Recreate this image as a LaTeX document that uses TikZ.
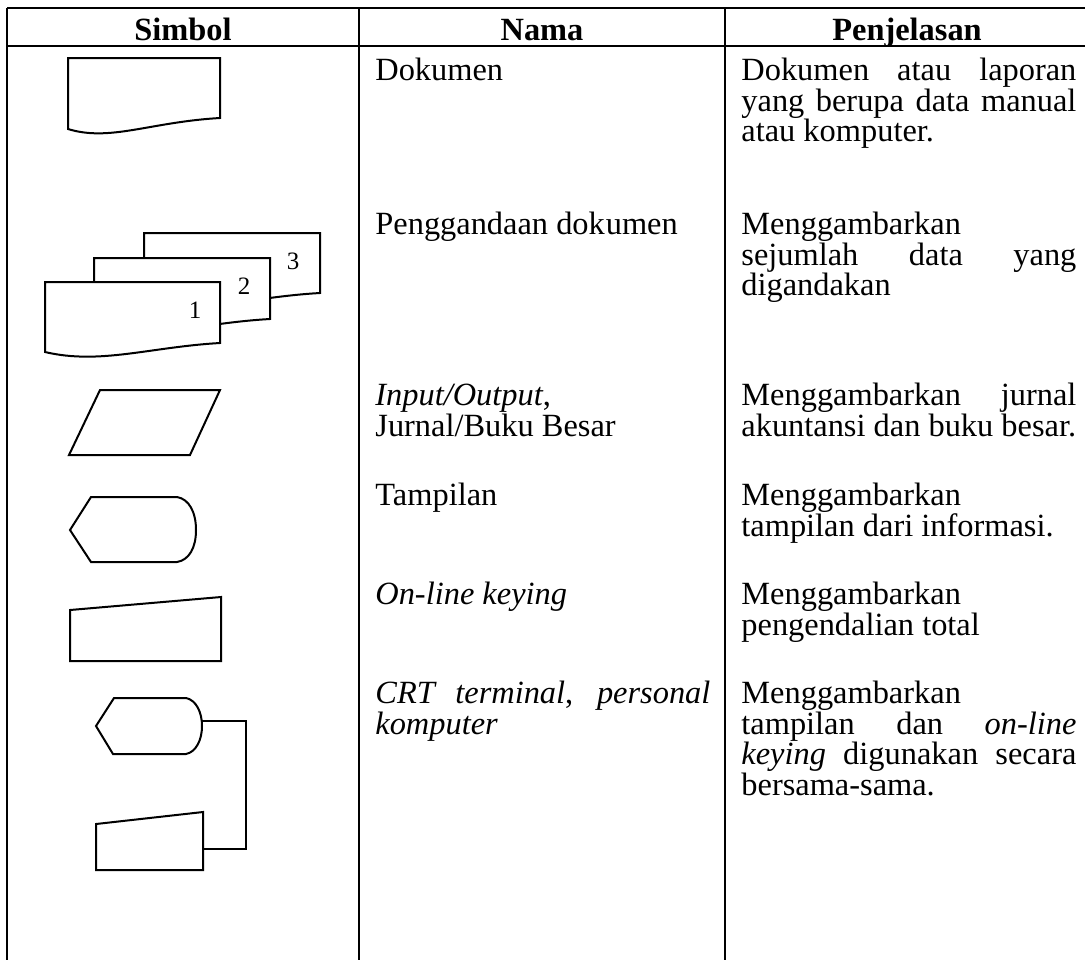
\documentclass[tikz,border=0pt]{standalone}
\usepackage{fontspec}
\setmainfont{Liberation Serif}
% one unit = one pixel of the page, y grows downwards
\tikzset{
  x=0.5pt, y=-0.5pt,
  gridline/.style={line width=0.6pt},
  sym/.style={line width=1pt, fill=white, line join=miter},
  hdr/.style={font=\fontsize{16.2}{15.3}\selectfont\bfseries, anchor=base, inner sep=0},
  cell/.style={font=\fontsize{16.2}{15.3}\selectfont, anchor=north west, inner sep=0,
               text width=167.5pt, align=justify},
  num/.style={font=\fontsize{12.5}{13}\selectfont, inner sep=0},
}
\newcommand\firstline{\rule{0pt}{12pt}}
\begin{document}
\begin{tikzpicture}
\useasboundingbox (0,0) rectangle (1085,960);

% table rules
\coordinate (tl) at (7,8);
\coordinate (hl) at (7,46);
\draw[gridline] (tl) -- (1085,8);
\draw[gridline] (hl) -- (1085,46);
\draw[gridline] (tl) -- (7,960);
\draw[gridline] (359,8) -- (359,960);
\draw[gridline] (725,8) -- (725,960);

% header
\node[hdr] (hSimbol) at (183,40) {Simbol};
\node[hdr] (hNama) at (542,40) {Nama};
\node[hdr] (hPenj) at (907,40) {Penjelasan};

% --- symbols ---
% document
\draw[sym] (68,58) -- (220,58) -- (220,118)
  .. controls (150,122) and (110,142) .. (68,129) -- cycle;

% multiple copies of a document
\draw[sym] (144,233) -- (320,233) -- (320,293)
  .. controls (250,297) and (200,314) .. (144,305) -- cycle;
\draw[sym] (94,258) -- (270,258) -- (270,319)
  .. controls (200,323) and (150,340) .. (94,331) -- cycle;
\draw[sym] (45,282) -- (220,282) -- (220,343)
  .. controls (150,347) and (100,365) .. (45,352) -- cycle;
\node[num] (n3) at (293,261) {3};
\node[num] (n2) at (244,286) {2};
\node[num] (n1) at (195,310) {1};

% input/output
\draw[sym] (100,390) -- (220,390) -- (190,455) -- (69,455) -- cycle;

% display
\draw[sym] (70,530) -- (91,497) -- (177,497)
  .. controls (189,499) and (196,512) .. (196,530)
  .. controls (196,548) and (189,560) .. (177,562)
  -- (91,562) -- cycle;

% on-line keying
\draw[sym] (70,610) -- (221,597) -- (221,661) -- (70,661) -- cycle;

% CRT terminal: display joined to keying
\draw[sym] (96,726) -- (114,698) -- (186,698)
  .. controls (196,700) and (202,712) .. (202,726)
  .. controls (202,740) and (196,752) .. (186,754)
  -- (113,754) -- cycle;
\draw[sym] (96,824) -- (203,812) -- (203,870) -- (96,870) -- cycle;
\coordinate (crtTop) at (202,721);
\coordinate (crtBot) at (203,849);
\draw[line width=0.8pt] (crtTop) -- (246,721) |- (crtBot);

% --- names ---
\node[cell] (nm1) at (375,56) {\firstline Dokumen};
\node[cell] (nm2) at (375,210) {\firstline Penggandaan dok\kern0.5pt umen};
\node[cell] (nm3) at (375,381) {\firstline\textit{Input/Output},\newline Jurnal/Buku Besar};
\node[cell] (nm4) at (375,481) {\firstline Tampilan};
\node[cell] (nm5) at (375,580) {\firstline\textit{On-line keying}};
\node[cell] (nm6) at (375,679) {\firstline\textit{CRT terminal}, \textit{personal}\linebreak \textit{komputer}};

% --- descriptions ---
\node[cell] (ds1) at (741,56) {\firstline Dokumen atau laporan\linebreak yang berupa data manual\linebreak atau komputer.};
\node[cell] (ds2) at (741,210) {\firstline Menggambarkan\newline sejumlah data yang\linebreak digandakan};
\node[cell] (ds3) at (741,381) {\firstline Menggambarkan jurnal\linebreak akuntansi dan buku besar.};
\node[cell] (ds4) at (741,481) {\firstline Menggambarkan\newline tampilan dari informasi.};
\node[cell] (ds5) at (741,580) {\firstline Menggambarkan\newline pengendalian total};
\node[cell] (ds6) at (741,679) {\firstline Menggambarkan\newline tampilan dan \textit{on-line}\linebreak \textit{keying} digunakan secara\linebreak bersama-sama.};
\end{tikzpicture}
\end{document}
